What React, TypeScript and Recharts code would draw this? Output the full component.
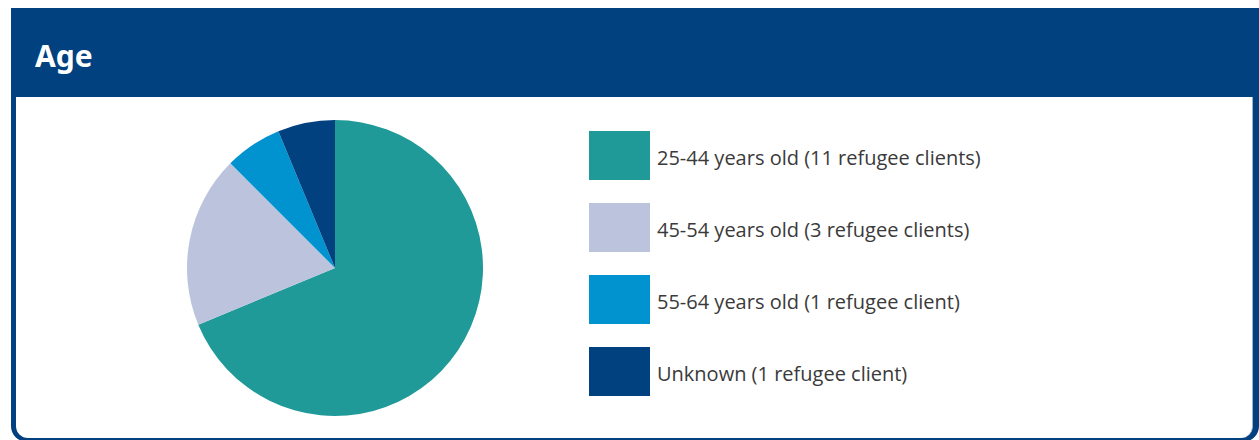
import { PieChart, Pie, Cell, Legend } from "recharts";

const ageGroups = [
  "25-44 years old",
  "45-54 years old",
  "55-64 years old",
  "Unknown",
];
const clientCounts = [11, 3, 1, 1];
const legendLabels = [
  "25-44 years old (11 refugee clients)",
  "45-54 years old (3 refugee clients)",
  "55-64 years old (1 refugee client)",
  "Unknown (1 refugee client)",
];
const sliceColors = ["#1f9a98", "#bcc4dd", "#0093d0", "#01417f"];

const data = ageGroups.map((name, i) => ({
  name,
  value: clientCounts[i],
  label: legendLabels[i],
}));

const FRAME = "#01417f";

function AgeLegend() {
  return (
    <div
      style={{
        position: "absolute",
        left: 573,
        top: 34,
        fontFamily: "'Open Sans', sans-serif",
      }}
    >
      {data.map((d, i) => (
        <div
          key={d.name}
          style={{ display: "flex", alignItems: "center", height: 49, marginBottom: 23 }}
        >
          <div style={{ width: 61, height: 49, background: sliceColors[i] }} />
          <span
            style={{
              marginLeft: 7,
              marginTop: 3,
              fontSize: 20,
              color: "#3a3a3a",
              whiteSpace: "nowrap",
            }}
          >
            {d.label}
          </span>
        </div>
      ))}
    </div>
  );
}

export default function App() {
  return (
    <div
      style={{
        position: "absolute",
        left: 11,
        top: 8,
        width: 1248,
        height: 434,
        background: FRAME,
        borderBottomLeftRadius: 16,
        borderBottomRightRadius: 16,
      }}
    >
      <div
        style={{
          position: "absolute",
          left: 24,
          top: 28,
          color: "#fff",
          fontFamily: "'Noto Sans', sans-serif",
          fontWeight: 700,
          fontSize: 30,
          lineHeight: "40px",
        }}
      >
        Age
      </div>
      <div
        style={{
          position: "absolute",
          left: 5,
          top: 89,
          width: 1236,
          height: 341,
          background: "#fff",
          borderRight: "1px solid #a9b0c4",
          borderBottomLeftRadius: 12,
          borderBottomRightRadius: 12,
        }}
      >
        <PieChart width={560} height={341} margin={{ top: 0, right: 0, bottom: 0, left: 0 }}>
          <Pie
            data={data}
            dataKey="value"
            nameKey="name"
            cx={319}
            cy={171}
            outerRadius={148}
            startAngle={90}
            endAngle={-270}
            stroke="none"
            isAnimationActive={false}
          >
            {data.map((d, i) => (
              <Cell key={d.name} fill={sliceColors[i]} />
            ))}
          </Pie>
          <Legend content={() => null} />
        </PieChart>
        <AgeLegend />
      </div>
    </div>
  );
}
